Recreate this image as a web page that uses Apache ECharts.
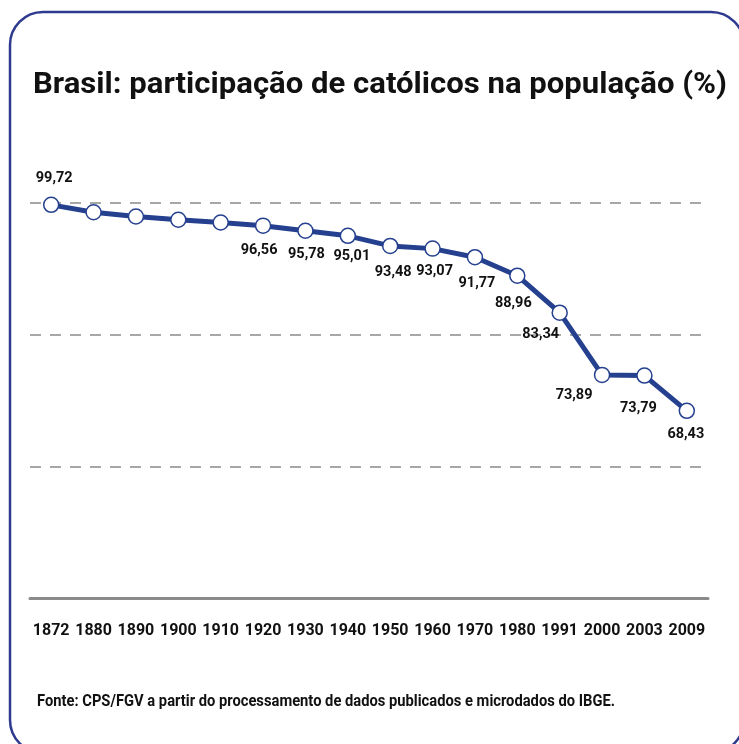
<!DOCTYPE html>
<html>
<head>
<meta charset="utf-8">
<script src="https://cdn.jsdelivr.net/npm/echarts@6/dist/echarts.min.js"></script>
<style>
  html, body { margin: 0; padding: 0; background: #fff; }
  #chart { width: 739px; height: 744px; }
</style>
</head>
<body>
<div id="chart"></div>
<script>
var years = ['1872', '1880', '1890', '1900', '1910', '1920', '1930', '1940',
  '1950', '1960', '1970', '1980', '1991', '2000', '2003', '2009'];
// 1880-1910 are not labelled in the source
var catolicos = [99.72, 98.6, 97.95, 97.45, 97.04, 96.56, 95.78, 95.01,
  93.48, 93.07, 91.77, 88.96, 83.34, 73.89, 73.79, 68.43];
var yTicks = [40, 60, 80, 100];

// where each value label sits relative to its point (null = no label)
var labelOffsets = [[3, -26], null, null, null, null, [-4, 25], [1, 24], [4, 21],
  [3, 26], [2, 23], [2, 26], [-4, 28], [-19, 22], [-28, 20], [-6, 33], [-1, 24]];

var TITLE = 'Brasil: participação de católicos na população (%)';
var SOURCE = 'Fonte: CPS/FGV a partir do processamento de dados publicados e microdados do IBGE.';

var FONT = 'Roboto, sans-serif';
var BLUE = '#25408f';

// fit a text to the width it takes in the original
function fitScale(text, size, width) {
  var ctx = document.createElement('canvas').getContext('2d');
  ctx.font = 'bold ' + size + 'px Roboto';
  return width / ctx.measureText(text).width;
}

var chart = echarts.init(document.getElementById('chart'));

var seriesData = catolicos.map(function (v, i) {
  var off = labelOffsets[i];
  if (!off) return { value: v, label: { show: false } };
  return { value: v, label: { show: true, position: 'inside', offset: off } };
});

var option = {
  animation: false,
  graphic: [
    {
      type: 'rect',
      shape: { x: 10, y: 12, width: 734, height: 741, r: 33 },
      style: { fill: 'none', stroke: '#2e3a8f', lineWidth: 2.5 },
      silent: true
    },
    {
      type: 'text',
      x: 33,
      y: 70,
      scaleX: fitScale(TITLE, 30, 694),
      style: {
        text: TITLE, fontFamily: FONT, fontWeight: 'bold', fontSize: 30,
        fill: '#111', verticalAlign: 'top'
      }
    },
    {
      type: 'text',
      x: 37,
      y: 693,
      scaleX: fitScale(SOURCE, 17, 578),
      style: {
        text: SOURCE, fontFamily: FONT, fontWeight: 'bold', fontSize: 17,
        fill: '#111', verticalAlign: 'top'
      }
    }
  ],
  grid: { left: 30, right: 31, top: 203, bottom: 146 },
  xAxis: {
    type: 'category',
    data: years,
    boundaryGap: true,
    axisLine: { lineStyle: { color: '#8a8a8a', width: 3 } },
    axisTick: { alignWithLabel: true, length: 12, lineStyle: { color: '#8a8a8a', width: 2 } },
    axisLabel: { interval: 0, margin: 25, fontFamily: FONT, fontWeight: 'bold', fontSize: 16, color: '#111' }
  },
  yAxis: {
    type: 'value',
    min: yTicks[0],
    max: yTicks[yTicks.length - 1],
    interval: 20,
    axisLine: { show: false },
    axisTick: { show: false },
    axisLabel: { show: false },
    splitLine: { lineStyle: { color: '#8a8a8a', width: 1.5, type: [11, 9] } }
  },
  series: [{
    type: 'line',
    data: seriesData,
    symbol: 'circle',
    symbolSize: 15,
    lineStyle: { color: BLUE, width: 5 },
    itemStyle: { color: '#fff', borderColor: BLUE, borderWidth: 1.5 },
    label: { fontFamily: FONT, fontWeight: 'bold', fontSize: 14.5, color: '#111',
      formatter: function (p) { return p.value.toFixed(2).replace('.', ','); } },
    z: 3
  }]
};

chart.setOption(option);
</script>
</body>
</html>
